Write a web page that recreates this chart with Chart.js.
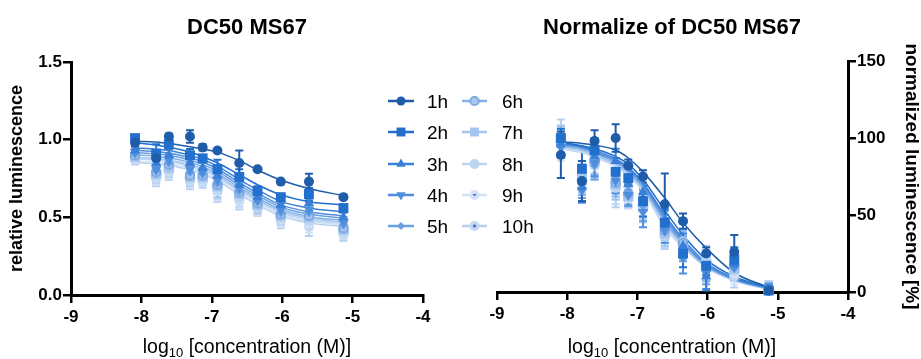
<!DOCTYPE html>
<html><head><meta charset="utf-8">
<script src="https://cdn.jsdelivr.net/npm/chart.js@4.4.1/dist/chart.umd.min.js"></script>
<style>
body{margin:0;background:#fff;width:921px;height:359px;overflow:hidden;position:relative;font-family:"Liberation Sans",Arial,sans-serif;}
canvas{position:absolute;top:0;}
.t{position:absolute;transform:translate(-50%,-50%);white-space:nowrap;color:#000;line-height:1;}
.title{font-weight:bold;font-size:22px;}
.xt{font-size:19.5px;}
.xt sub{font-size:13px;vertical-align:-4px;line-height:0;}
.lg{position:absolute;font-size:19px;line-height:1;transform:translateY(-50%);white-space:nowrap;color:#000;}
</style></head><body>
<canvas id="c1" width="460" height="359" style="left:0"></canvas>
<canvas id="c2" width="461" height="359" style="left:460px"></canvas>
<canvas id="lgc" width="130" height="150" style="left:380px;top:86px"></canvas>
<div class="t title" style="left:247px;top:27px">DC50 MS67</div>
<div class="t title" style="left:672px;top:27px">Normalize of DC50 MS67</div>
<div class="t xt" style="left:247px;top:347px">log<sub>10</sub> [concentration (M)]</div>
<div class="t xt" style="left:672px;top:347px">log<sub>10</sub> [concentration (M)]</div>
<div id="legend"></div>
<script>
// ---------- data ----------
const logConc = [-8.09, -7.79, -7.61, -7.31, -7.13, -6.92, -6.61, -6.35, -6.02, -5.62, -5.13];
const seriesNames = ['1h','2h','3h','4h','5h','6h','7h','8h','9h','10h'];
const xTicks = [-9, -8, -7, -6, -5, -4];
const yTicksRel = [0, 0.5, 1.0, 1.5];
const yTicksNorm = [0, 50, 100, 150];

// relative luminescence: means
const rel1h  = [0.98, 0.88, 1.02, 1.02, 0.95, 0.93, 0.85, 0.81, 0.73, 0.73, 0.63];
const rel2h  = [1.01, 0.91, 0.97, 0.90, 0.88, 0.81, 0.76, 0.67, 0.63, 0.65, 0.56];
const rel3h  = [0.93, 0.85, 0.90, 0.85, 0.82, 0.77, 0.71, 0.63, 0.58, 0.59, 0.50];
const rel4h  = [0.92, 0.81, 0.87, 0.81, 0.79, 0.74, 0.69, 0.61, 0.55, 0.55, 0.47];
const rel5h  = [0.91, 0.80, 0.85, 0.79, 0.78, 0.72, 0.67, 0.60, 0.53, 0.53, 0.45];
const rel6h  = [0.90, 0.79, 0.84, 0.77, 0.77, 0.71, 0.66, 0.59, 0.52, 0.51, 0.43];
const rel7h  = [0.89, 0.78, 0.82, 0.76, 0.76, 0.70, 0.65, 0.58, 0.51, 0.50, 0.42];
const rel8h  = [0.89, 0.77, 0.81, 0.75, 0.75, 0.69, 0.63, 0.57, 0.50, 0.48, 0.41];
const rel9h  = [0.88, 0.76, 0.80, 0.74, 0.74, 0.68, 0.62, 0.565, 0.49, 0.46, 0.40];
const rel10h = [0.87, 0.75, 0.79, 0.73, 0.73, 0.67, 0.61, 0.56, 0.48, 0.44, 0.39];
// relative luminescence: error bars
const relErr1h  = [0.02, 0.02, 0.02, 0.04, 0.02, 0.01, 0.08, 0.01, 0.01, 0.05, 0.01];
const relErr2h  = [0.02, 0.06, 0.02, 0.04, 0.02, 0.06, 0.05, 0.03, 0.02, 0.04, 0.02];
const relErr3h  = [0.03, 0.05, 0.04, 0.04, 0.03, 0.06, 0.05, 0.05, 0.04, 0.05, 0.03];
const relErr4h  = [0.03, 0.05, 0.04, 0.04, 0.03, 0.06, 0.05, 0.05, 0.04, 0.05, 0.03];
const relErr5h  = [0.03, 0.05, 0.04, 0.04, 0.03, 0.06, 0.05, 0.05, 0.04, 0.05, 0.03];
const relErr6h  = [0.03, 0.05, 0.04, 0.05, 0.04, 0.06, 0.05, 0.05, 0.04, 0.05, 0.03];
const relErr7h  = [0.03, 0.05, 0.05, 0.05, 0.04, 0.07, 0.06, 0.05, 0.05, 0.06, 0.04];
const relErr8h  = [0.03, 0.05, 0.05, 0.05, 0.04, 0.07, 0.06, 0.05, 0.05, 0.06, 0.04];
const relErr9h  = [0.03, 0.05, 0.05, 0.05, 0.04, 0.07, 0.06, 0.05, 0.05, 0.06, 0.04];
const relErr10h = [0.03, 0.05, 0.05, 0.05, 0.04, 0.07, 0.06, 0.05, 0.05, 0.06, 0.04];
// relative luminescence: fitted curves (read at each concentration)
const relFit1h  = [0.99, 0.985, 0.975, 0.955, 0.94, 0.92, 0.865, 0.805, 0.74, 0.685, 0.64];
const relFit2h  = [0.98, 0.965, 0.95, 0.92, 0.89, 0.85, 0.775, 0.71, 0.645, 0.60, 0.58];
const relFit3h  = [0.947, 0.938, 0.930, 0.899, 0.873, 0.830, 0.743, 0.677, 0.603, 0.560, 0.534];
const relFit4h  = [0.932, 0.923, 0.914, 0.883, 0.856, 0.812, 0.723, 0.656, 0.580, 0.536, 0.509];
const relFit5h  = [0.917, 0.908, 0.899, 0.868, 0.841, 0.797, 0.708, 0.641, 0.565, 0.521, 0.494];
const relFit6h  = [0.902, 0.893, 0.884, 0.853, 0.826, 0.782, 0.693, 0.626, 0.550, 0.506, 0.479];
const relFit7h  = [0.887, 0.878, 0.869, 0.838, 0.812, 0.768, 0.680, 0.614, 0.539, 0.495, 0.469];
const relFit8h  = [0.877, 0.868, 0.859, 0.828, 0.802, 0.758, 0.670, 0.604, 0.529, 0.485, 0.459];
const relFit9h  = [0.862, 0.853, 0.845, 0.814, 0.788, 0.745, 0.658, 0.592, 0.518, 0.475, 0.449];
const relFit10h = [0.852, 0.843, 0.835, 0.804, 0.778, 0.735, 0.648, 0.582, 0.508, 0.465, 0.439];

// normalized luminescence [%]: means
const nrm1h  = [89, 72, 98, 100, 82, 75, 57, 46, 25, 26, 1];
const nrm2h  = [100, 80, 92, 78, 74, 59, 45, 25, 17, 21, 1];
const nrm3h  = [96, 68, 88, 85, 70, 65, 46, 30, 10, 18, 1];
const nrm4h  = [94, 66, 84, 72, 63, 52, 40, 22, 12, 16, 1];
const nrm5h  = [95, 70, 82, 74, 66, 56, 42, 28, 14, 20, 1];
const nrm6h  = [97, 72, 85, 71, 64, 58, 40, 32, 16, 17, 1];
const nrm7h  = [99, 74, 86, 70, 62, 55, 38, 30, 17, 15, 1];
const nrm8h  = [98, 73, 84, 68, 63, 56, 37, 31, 20, 14, 1];
const nrm9h  = [96, 70, 83, 72, 61, 54, 38, 29, 18, 12, 1];
const nrm10h = [100, 72, 82, 69, 62, 57, 36, 33, 18, 10, 1];
// normalized: error bars
const nrmErr1h  = [15, 13, 7, 9, 4, 4, 20, 5, 4, 11, 2];
const nrmErr2h  = [6, 12, 8, 9, 5, 10, 8, 9, 6, 8, 3];
const nrmErr3h  = [6, 9, 7, 8, 6, 9, 8, 8, 9, 6, 3];
const nrmErr4h  = [7, 8, 9, 8, 7, 10, 8, 10, 10, 8, 4];
const nrmErr5h  = [7, 9, 9, 9, 7, 10, 8, 8, 9, 8, 4];
const nrmErr6h  = [8, 9, 9, 9, 7, 9, 8, 8, 9, 8, 5];
const nrmErr7h  = [9, 9, 9, 10, 7, 9, 8, 8, 10, 7, 5];
const nrmErr8h  = [10, 9, 9, 11, 7, 9, 8, 8, 10, 7, 6];
const nrmErr9h  = [11, 9, 9, 12, 7, 9, 8, 8, 10, 7, 6];
const nrmErr10h = [12, 9, 9, 14, 7, 9, 8, 8, 10, 7, 6];
// normalized: fitted curves
const nrmFit1h  = [97.5, 96.5, 95.4, 92.2, 87, 78, 61, 45, 28.5, 12.5, 3];
const nrmFit2h  = [97, 95, 93, 88, 83, 73, 53, 37, 21, 10, 3];
const nrmFit3h  = [96.5, 94.5, 92, 86.5, 81, 71, 50, 34.5, 19, 9, 2.5];
const nrmFit4h  = [96, 94, 91, 85.5, 80, 70, 48.5, 33, 18, 8.5, 2.3];
const nrmFit5h  = [95.5, 93.5, 90.5, 85, 79, 69, 47, 32, 17.5, 8.2, 2.2];
const nrmFit6h  = [95, 93, 90, 84, 78, 68, 46, 31, 17, 8, 2];
const nrmFit7h  = [94.5, 92, 89, 83, 77, 67, 45, 30.5, 16.5, 7.8, 2];
const nrmFit8h  = [94, 91.5, 88.5, 82.5, 76.5, 66.5, 44, 30, 16.2, 7.6, 1.9];
const nrmFit9h  = [93.5, 91, 88, 82, 76, 66, 43, 29.5, 16, 7.5, 1.8];
const nrmFit10h = [93, 90.5, 87.5, 81.5, 75.5, 65.5, 42, 29, 15.8, 7.3, 1.7];

const relMeans = [rel1h, rel2h, rel3h, rel4h, rel5h, rel6h, rel7h, rel8h, rel9h, rel10h];
const relErrs  = [relErr1h, relErr2h, relErr3h, relErr4h, relErr5h, relErr6h, relErr7h, relErr8h, relErr9h, relErr10h];
const relFits  = [relFit1h, relFit2h, relFit3h, relFit4h, relFit5h, relFit6h, relFit7h, relFit8h, relFit9h, relFit10h];
const nrmMeans = [nrm1h, nrm2h, nrm3h, nrm4h, nrm5h, nrm6h, nrm7h, nrm8h, nrm9h, nrm10h];
const nrmErrs  = [nrmErr1h, nrmErr2h, nrmErr3h, nrmErr4h, nrmErr5h, nrmErr6h, nrmErr7h, nrmErr8h, nrmErr9h, nrmErr10h];
const nrmFits  = [nrmFit1h, nrmFit2h, nrmFit3h, nrmFit4h, nrmFit5h, nrmFit6h, nrmFit7h, nrmFit8h, nrmFit9h, nrmFit10h];

// ---------- styles ----------
const colors = ['#1f5dab','#2270cc','#3a80d8','#4f8edc','#6aa0e2','#86b2e8','#a3c5ef','#bcd5f3','#d2e2f7','#b8cff0'];
function mk(size, draw){const c=document.createElement('canvas');c.width=c.height=size;draw(c.getContext('2d'),size/2);return c;}
const m6 = mk(12,(x,h)=>{x.beginPath();x.arc(h,h,4.3,0,2*Math.PI);x.fillStyle='#a9c7ef';x.fill();x.lineWidth=1.6;x.strokeStyle='#6f9edb';x.stroke();});
const m9 = mk(12,(x,h)=>{x.beginPath();x.arc(h,h,5,0,2*Math.PI);x.fillStyle='#d5e3f7';x.fill();x.beginPath();x.moveTo(h-1.8,h-1);x.lineTo(h+1.8,h-1);x.lineTo(h,h+1.5);x.closePath();x.fillStyle='#2b5fae';x.fill();});
const m10 = mk(12,(x,h)=>{x.beginPath();x.arc(h,h,5,0,2*Math.PI);x.fillStyle='#c2d7f2';x.fill();x.beginPath();x.arc(h,h,1.4,0,2*Math.PI);x.fillStyle='#2b5fae';x.fill();});
const markers = [
  {s:'circle',r:5},{s:'rect',r:7},{s:'triangle',r:6},{s:'triangle',r:6,rot:180},{s:'rectRot',r:4.5},
  {s:m6,r:5},{s:'rect',r:7},{s:'circle',r:5.5},{s:m9,r:5},{s:m10,r:5}
];
const FONT = '"Liberation Sans", Arial, sans-serif';

const errorBars = {
  id:'errorBars',
  beforeDatasetsDraw(chart){
    const {ctx, chartArea:a, scales:{x,y}} = chart;
    ctx.save();
    ctx.beginPath(); ctx.rect(a.left-10, a.top-10, a.right-a.left+20, a.bottom-a.top+10); ctx.clip();
    for (let i = chart.data.datasets.length-1; i >= 0; i--){
      const ds = chart.data.datasets[i];
      if (!ds.errors) continue;
      ctx.strokeStyle = ds.borderColor; ctx.lineWidth = 2;
      ds.data.forEach((p,j)=>{
        const e = ds.errors[j]; if (!e) return;
        const px = x.getPixelForValue(p.x), y1 = y.getPixelForValue(p.y+e), y2 = y.getPixelForValue(p.y-e);
        ctx.beginPath();
        ctx.moveTo(px,y1); ctx.lineTo(px,y2);
        ctx.moveTo(px-4,y1); ctx.lineTo(px+4,y1);
        ctx.moveTo(px-4,y2); ctx.lineTo(px+4,y2);
        ctx.stroke();
      });
    }
    ctx.restore();
  }
};

function buildDatasets(means, errs, fits){
  const ds = [];
  for (let i=0;i<seriesNames.length;i++){
    const m = markers[i];
    ds.push({label:seriesNames[i], data:logConc.map((x,j)=>({x, y:means[i][j]})), errors:errs[i],
      showLine:false, pointStyle:m.s, pointRadius:m.r, pointRotation:m.rot||0,
      backgroundColor:colors[i], borderColor:colors[i], pointBorderWidth:0, order:0, clip:false});
  }
  for (let i=0;i<seriesNames.length;i++){
    ds.push({label:seriesNames[i]+' fit', data:logConc.map((x,j)=>({x, y:fits[i][j]})),
      borderColor:colors[i], borderWidth:1.5, pointRadius:0, cubicInterpolationMode:'monotone', fill:false, order:1});
  }
  return ds;
}

function axisCommon(){
  return {
    grid:{drawOnChartArea:false, drawTicks:true, tickLength:8, lineWidth:2.5, color:'#000'},
    border:{display:true, width:3, color:'#000'}
  };
}

function makeChart(id, means, errs, fits, opt){
  return new Chart(document.getElementById(id), {
    type:'line',
    data:{datasets:buildDatasets(means, errs, fits)},
    options:{
      responsive:false, animation:false, devicePixelRatio:1,
      layout:{padding:opt.padding},
      plugins:{legend:{display:false}, tooltip:{enabled:false}, title:{display:false}},
      scales:{
        x:Object.assign(axisCommon(), {
          type:'linear', position:'bottom', min:-9, max:-4,
          afterBuildTicks(s){ s.ticks = xTicks.map(v=>({value:v})); },
          ticks:{color:'#000', font:{family:FONT, size:17, weight:'bold'}, padding:4, callback:v=>String(v)},
          afterFit(s){ s.height = opt.xh; }
        }),
        y:Object.assign(axisCommon(), {
          type:'linear', position:opt.yPos, min:0, max:opt.ymax,
          afterBuildTicks(s){ s.ticks = opt.yTicks.map(v=>({value:v})); },
          ticks:{color:'#000', font:{family:FONT, size:17, weight:'bold'}, padding:1, callback:opt.fmt},
          title:{display:true, text:opt.yTitle, color:'#000', font:{family:FONT, size:opt.tsize, weight:'bold', lineHeight:1}, padding:{top:opt.tpad, bottom:0}},
          afterFit(s){ s.width = opt.yw; }
        })
      }
    },
    plugins:[errorBars]
  });
}

makeChart('c1', relMeans, relErrs, relFits, {
  padding:{left:0, right:37, top:62, bottom:0}, xh:64, yw:71, yPos:'left', ymax:1.5,
  yTicks:yTicksRel, fmt:v=>Number(v).toFixed(1), yTitle:'relative luminescence', tpad:8, tsize:18
});
makeChart('c2', nrmMeans, nrmErrs, nrmFits, {
  padding:{left:37, right:0, top:61, bottom:0}, xh:67, yw:73, yPos:'right', ymax:150,
  yTicks:yTicksNorm, fmt:v=>String(v), yTitle:'normalized luminescence [%]', tpad:0, tsize:19
});

// ---------- legend ----------
const lg = document.getElementById('lgc').getContext('2d');
const rowsY = [15, 46, 78, 109, 140];
const legend = document.getElementById('legend');
seriesNames.forEach((name,i)=>{
  const col = i<5 ? 0 : 1, row = i%5;
  const x0 = col===0 ? 8 : 82, x1 = col===0 ? 34 : 107, cy = rowsY[row];
  lg.strokeStyle = colors[i]; lg.lineWidth = 2.5;
  lg.beginPath(); lg.moveTo(x0,cy); lg.lineTo(x1,cy); lg.stroke();
  const m = markers[i], cx = (x0+x1)/2;
  if (typeof m.s === 'string'){
    lg.fillStyle = colors[i]; lg.strokeStyle = colors[i];
    Chart.helpers.drawPoint(lg, {pointStyle:m.s, radius:m.r*0.9, rotation:m.rot||0, borderWidth:0}, cx, cy);
  } else {
    lg.drawImage(m.s, cx-m.s.width/2, cy-m.s.height/2);
  }
  const d = document.createElement('div');
  d.className = 'lg'; d.textContent = name;
  d.style.left = (col===0 ? 427 : 502) + 'px';
  d.style.top = (86 + cy) + 'px';
  legend.appendChild(d);
});
</script>
</body></html>
